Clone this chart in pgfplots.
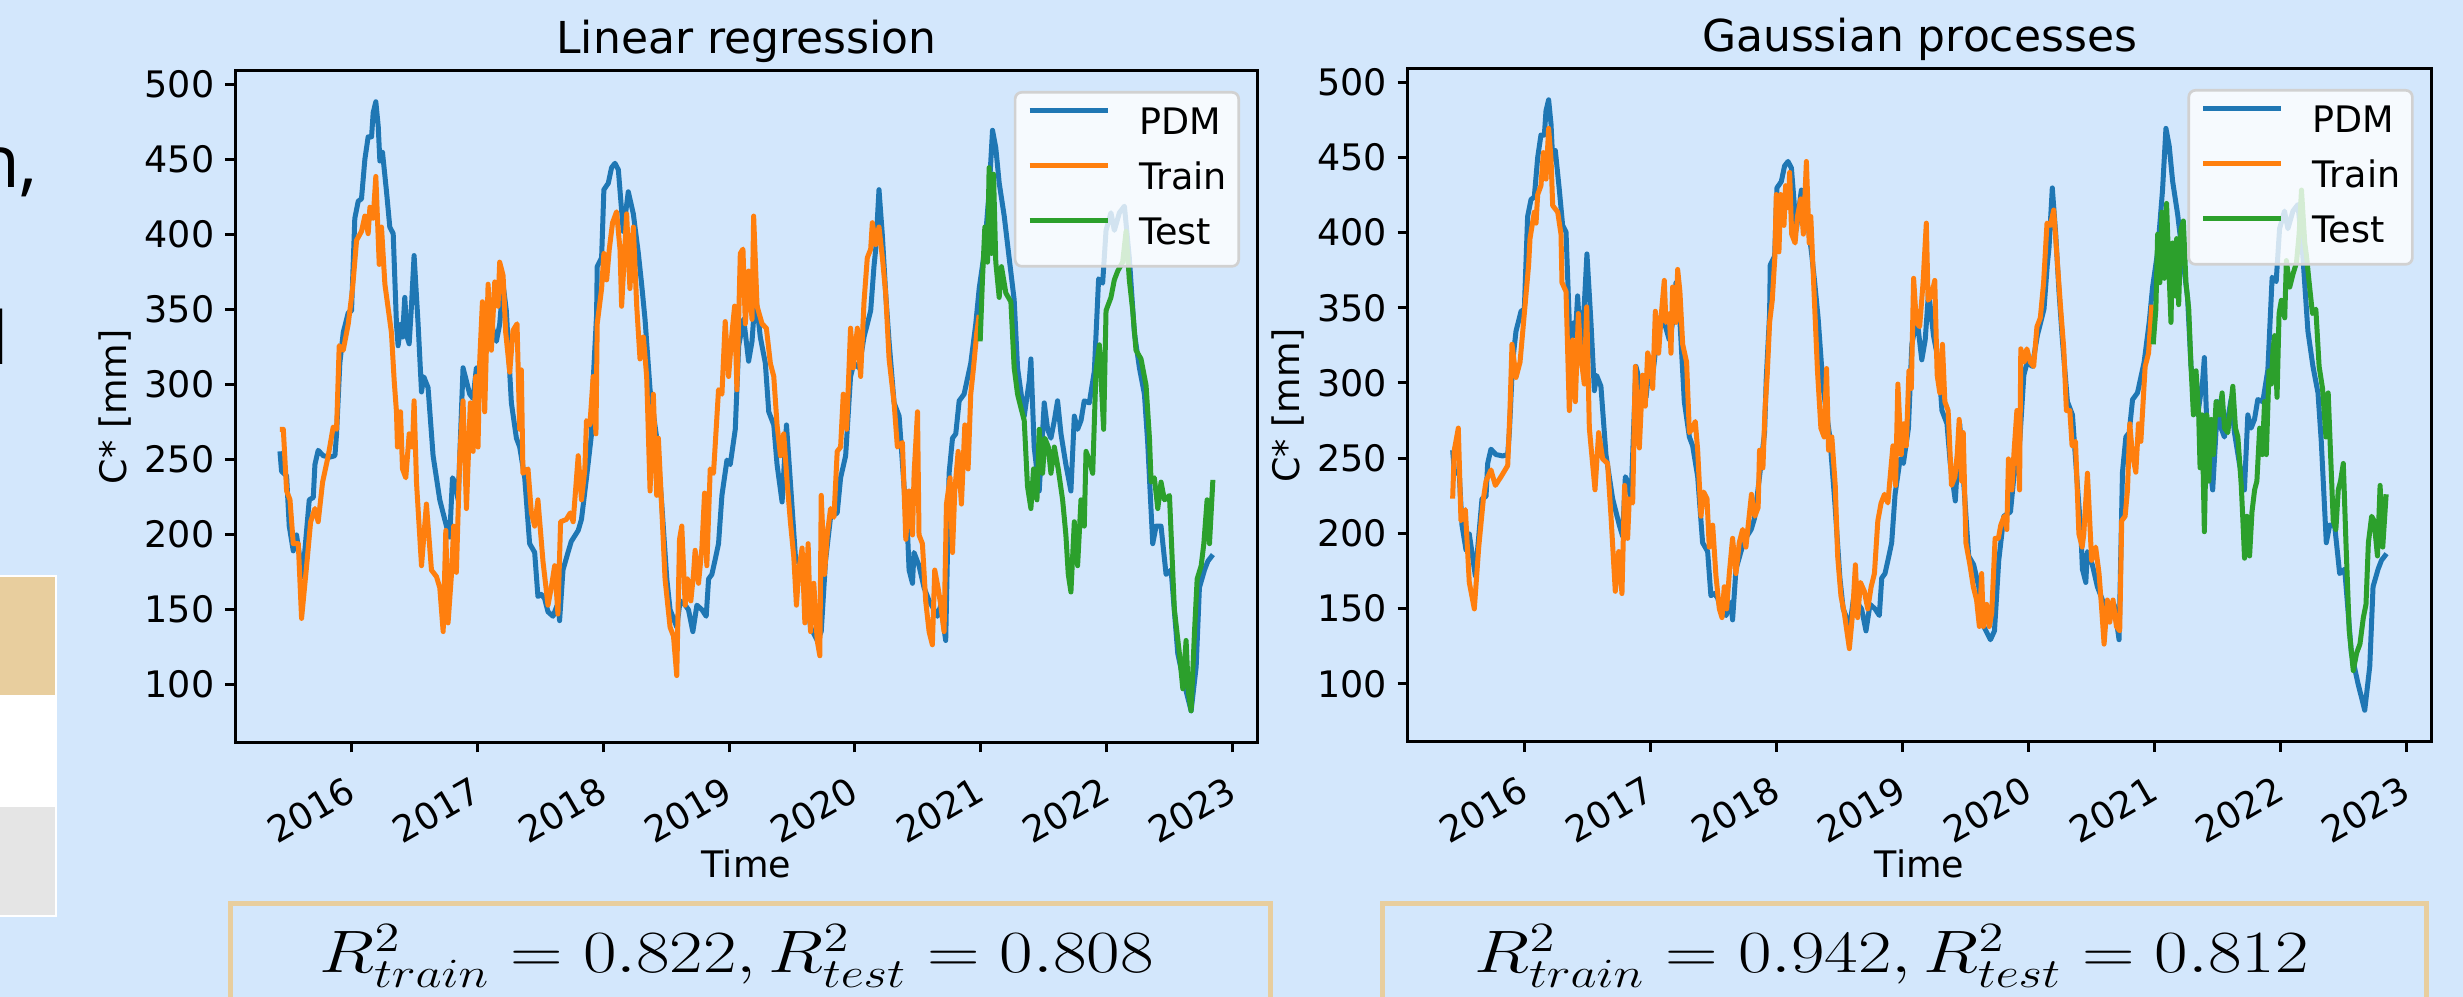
\documentclass[border=0pt]{standalone}
\usepackage{graphicx}
\usepackage{pgfplots}
\usepackage{pgfplotstable}
\pgfplotsset{compat=1.18}
\usepackage{fontspec}
\setmainfont{DejaVu Sans}
\newfontfamily\posterfont{Open Sans}
\definecolor{bgblue}{RGB}{211,231,252}
\definecolor{tabblue}{HTML}{1F77B4}
\definecolor{taborange}{HTML}{FF7F0E}
\definecolor{tabgreen}{HTML}{2CA02C}
\definecolor{tanbox}{HTML}{E8CE9E}
\definecolor{graybox}{HTML}{E5E5E5}

\pgfplotstableread{
x y
2015.431 255.3
2015.444 242
2015.484 239
2015.505 205.5
2015.537 189
2015.563 199.6
2015.611 171.8
2015.664 223
2015.696 224.6
2015.709 246.5
2015.735 256
2015.775 252.4
2015.828 251.5
2015.868 252.4
2015.881 267
2015.907 314
2015.934 334.5
2015.974 347.7
2016.000 349
2016.026 410.7
2016.053 422
2016.079 423.6
2016.106 450
2016.132 464.9
2016.159 464.9
2016.172 481
2016.193 488.3
2016.212 472
2016.225 448.8
2016.246 454.6
2016.278 428.3
2016.304 404.8
2016.331 400.4
2016.357 340
2016.370 325.7
2016.392 340
2016.405 331.5
2016.423 357.9
2016.442 331.5
2016.458 327
2016.476 352
2016.497 385.8
2016.529 340
2016.556 294.9
2016.574 305
2016.608 297.8
2016.648 252.4
2016.701 223
2016.754 205.5
2016.780 198.2
2016.802 237.7
2016.820 234.8
2016.847 223
2016.886 311
2016.913 302
2016.939 293.4
2016.966 290.5
2016.992 311
2017.019 305
2017.071 343.3
2017.111 340.3
2017.151 328.6
2017.177 340
2017.204 366.7
2017.230 349
2017.270 287.6
2017.310 264.1
2017.336 258.3
2017.376 237.7
2017.402 208.4
2017.415 193.8
2017.455 188
2017.481 158.6
2017.508 160
2017.534 157.2
2017.561 148.4
2017.601 145.4
2017.640 154.2
2017.653 142.5
2017.680 176.2
2017.720 188
2017.746 195.3
2017.801 202.6
2017.827 210
2017.867 237.7
2017.907 267
2017.920 302.2
2017.947 346.2
2017.952 378.4
2017.987 384.3
2018.005 429.7
2018.040 434
2018.066 444.4
2018.093 447.3
2018.120 443
2018.159 401.9
2018.199 428.3
2018.239 413.6
2018.279 387.2
2018.305 366.7
2018.332 343.3
2018.372 296.4
2018.425 264.1
2018.465 220.2
2018.505 170.3
2018.531 149.8
2018.558 144
2018.584 138.1
2018.611 155.7
2018.651 152.8
2018.677 149.8
2018.712 135.2
2018.744 152.8
2018.784 149.8
2018.818 145.4
2018.837 170.3
2018.863 173.3
2018.890 183.5
2018.916 193.8
2018.943 226
2018.983 249.5
2019.009 246.5
2019.049 270
2019.076 325.7
2019.116 343.3
2019.155 315.4
2019.182 328.6
2019.209 360.8
2019.248 331.5
2019.288 314
2019.315 281.7
2019.355 272.9
2019.381 246.5
2019.421 221.6
2019.456 272.9
2019.487 234.8
2019.527 185
2019.567 179.1
2019.607 164.5
2019.647 138.1
2019.700 129.3
2019.732 135.2
2019.766 182.1
2019.806 211.4
2019.859 214.3
2019.886 237.7
2019.926 252.4
2019.965 305.2
2019.992 314
2020.032 311
2020.072 331.5
2020.125 349.1
2020.151 378.4
2020.165 390.1
2020.191 429.7
2020.218 398.9
2020.244 360.8
2020.271 328.6
2020.311 287.6
2020.351 278.8
2020.390 231.9
2020.417 202.6
2020.430 176.2
2020.457 167.4
2020.469 187.9
2020.509 179.1
2020.549 164.5
2020.589 155.7
2020.629 149.8
2020.655 145.4
2020.682 152.8
2020.721 129.3
2020.748 240.7
2020.775 264.1
2020.801 267
2020.828 289
2020.867 293.4
2020.920 313.9
2020.960 340.3
2020.987 363.8
2021.027 387.2
2021.066 428.3
2021.093 469.3
2021.119 457.6
2021.146 434.2
2021.186 412.1
2021.225 384.3
2021.265 356.4
2021.292 311
2021.345 278.8
2021.385 302.2
2021.398 316.9
2021.424 258.2
2021.464 228.9
2021.504 287.6
2021.531 270
2021.557 264.1
2021.584 275.8
2021.610 289
2021.637 267
2021.676 246.5
2021.716 228.9
2021.743 278.8
2021.769 270
2021.796 275.8
2021.822 289
2021.862 287.6
2021.902 308.7
2021.936 370.3
2021.968 367.4
2021.995 402.6
2022.034 414.3
2022.061 402.6
2022.101 414.3
2022.141 418.7
2022.180 384.3
2022.220 334.5
2022.260 311
2022.300 293.4
2022.326 261.2
2022.366 193.8
2022.393 205.5
2022.432 205.5
2022.472 173.3
2022.512 176.2
2022.565 120.5
2022.618 100
2022.671 82.4
2022.711 111.7
2022.737 164.5
2022.777 176.2
2022.804 182.1
2022.844 186.5
}\pdm

\pgfplotstableread{
x y
2015.431 270
2015.458 270
2015.484 229
2015.511 223
2015.537 193.8
2015.577 193.8
2015.603 144
2015.643 179
2015.675 208.4
2015.709 217.2
2015.735 208.4
2015.770 234.8
2015.815 252.4
2015.854 271.5
2015.881 270
2015.902 325.7
2015.934 322.7
2015.974 340.3
2016.008 363.8
2016.040 396
2016.079 401.9
2016.106 412.1
2016.132 400.4
2016.146 418
2016.172 410.7
2016.193 438.5
2016.220 379.9
2016.238 404.8
2016.265 366.7
2016.317 334.5
2016.339 302.2
2016.357 281.7
2016.365 258.2
2016.389 281.7
2016.405 243.6
2016.431 237.7
2016.458 267
2016.484 258.2
2016.497 289
2016.516 234.8
2016.556 179.1
2016.595 220.2
2016.635 176.2
2016.675 171.8
2016.701 164.5
2016.728 135.2
2016.749 202.6
2016.767 141
2016.794 173.3
2016.812 205.5
2016.833 174.7
2016.860 252.4
2016.886 289
2016.913 217.2
2016.944 287.6
2016.966 255.3
2016.987 305.2
2017.005 258.2
2017.019 316.9
2017.040 355
2017.058 281.7
2017.085 366.7
2017.111 322.7
2017.138 368.2
2017.164 352
2017.177 381.4
2017.204 372.6
2017.225 334.5
2017.257 308.1
2017.283 335.9
2017.315 340.3
2017.336 270
2017.349 309.6
2017.362 240.7
2017.402 243.6
2017.429 214.3
2017.455 205.5
2017.481 223
2017.521 182.1
2017.561 152.8
2017.587 164.5
2017.614 179.1
2017.640 146.9
2017.661 208.4
2017.706 209.9
2017.738 214.3
2017.761 208.4
2017.801 252.4
2017.827 223
2017.854 243.6
2017.867 275.8
2017.894 272.9
2017.920 305.2
2017.942 267
2017.952 340.3
2017.987 363.8
2018.005 387.2
2018.027 369.6
2018.048 390.1
2018.074 407.7
2018.106 415
2018.133 390.1
2018.146 352
2018.186 413.6
2018.212 363.8
2018.239 404.8
2018.266 352
2018.292 316.9
2018.319 331.5
2018.345 305.2
2018.372 228.9
2018.398 293.4
2018.425 226
2018.438 264.1
2018.465 217.2
2018.491 170.3
2018.531 138.1
2018.558 132.2
2018.584 105.9
2018.606 196.7
2018.624 205.5
2018.651 152.8
2018.669 170.3
2018.696 155.7
2018.717 173.3
2018.730 189.4
2018.757 167.4
2018.784 190.9
2018.805 227.5
2018.823 179.1
2018.850 243.6
2018.876 240.7
2018.895 267
2018.916 296.4
2018.943 293.4
2018.969 341.8
2018.996 305.2
2019.023 334.5
2019.044 352.1
2019.062 296.4
2019.089 387.2
2019.110 390.1
2019.129 340.3
2019.155 375.5
2019.182 343.3
2019.195 412.1
2019.222 352.1
2019.262 340.3
2019.296 337.4
2019.328 313.9
2019.355 305.2
2019.381 272.9
2019.408 252.4
2019.434 267
2019.461 234.8
2019.487 208.4
2019.514 185
2019.535 152.8
2019.554 176.2
2019.580 190.9
2019.602 141
2019.628 193.8
2019.647 135.2
2019.673 167.4
2019.700 129.3
2019.721 119.1
2019.732 226
2019.758 173.3
2019.780 199.6
2019.806 217.2
2019.833 211.4
2019.859 255.3
2019.886 258.2
2019.907 293.4
2019.934 270
2019.965 337.4
2019.987 311
2020.019 337.4
2020.045 305.2
2020.072 355
2020.098 384.3
2020.125 390.1
2020.138 407.7
2020.165 393.1
2020.191 404.8
2020.218 384.3
2020.244 360.8
2020.271 316.9
2020.311 287.6
2020.337 258.2
2020.377 261.2
2020.404 196.7
2020.430 228.9
2020.457 199.6
2020.470 240.7
2020.497 281.7
2020.509 199.6
2020.536 193.8
2020.562 155.7
2020.589 135.2
2020.615 126.4
2020.634 176.2
2020.660 164.5
2020.682 152.8
2020.708 135.2
2020.727 220.2
2020.756 237.7
2020.775 187.9
2020.793 228.9
2020.820 255.3
2020.846 220.2
2020.873 272.9
2020.899 243.6
2020.920 293.4
2020.942 311
2020.968 334.5
2020.987 346.2
}\lrtrain

\pgfplotstableread{
x y
2020.995 328.6
2021.013 369.6
2021.032 404.8
2021.053 381.4
2021.066 444.4
2021.085 387.2
2021.101 440
2021.119 381.4
2021.146 357.9
2021.164 378.4
2021.199 360.8
2021.239 355
2021.265 311
2021.292 293.4
2021.318 284.6
2021.345 275.8
2021.371 231.9
2021.398 217.2
2021.419 243.6
2021.446 223
2021.464 270
2021.491 240.7
2021.509 264.1
2021.536 258.2
2021.557 240.7
2021.584 258.2
2021.615 243.6
2021.650 223
2021.676 199.6
2021.695 173.3
2021.716 161.6
2021.743 208.4
2021.769 179.1
2021.796 223
2021.822 205.5
2021.836 255.3
2021.862 249.5
2021.889 240.7
2021.915 308.7
2021.942 326.3
2021.976 270
2021.995 349.1
2022.034 357.9
2022.061 369.6
2022.088 375.5
2022.127 381.4
2022.154 401.9
2022.180 369.6
2022.207 349.1
2022.233 322.7
2022.273 316.9
2022.313 299.3
2022.340 264.1
2022.353 234.8
2022.379 237.7
2022.406 217.2
2022.432 234.8
2022.459 223
2022.499 225.9
2022.538 149.8
2022.578 120.5
2022.605 97.1
2022.631 129.3
2022.650 94.1
2022.671 82.4
2022.698 135.2
2022.719 170.3
2022.751 179.1
2022.772 193.8
2022.798 223
2022.817 193.8
2022.844 236.3
}\lrtest

\pgfplotstableread{
x y
2015.431 223.1
2015.444 255.3
2015.476 270
2015.497 208.4
2015.532 215.8
2015.563 167.4
2015.603 149.8
2015.638 190.9
2015.675 223
2015.696 234.8
2015.735 242.2
2015.770 231.9
2015.815 237.7
2015.868 245.1
2015.886 281.7
2015.902 325.7
2015.934 303.7
2015.966 313.9
2016.000 346.2
2016.034 378.4
2016.045 396
2016.079 413.6
2016.093 406.3
2016.106 425.3
2016.132 431.2
2016.151 453.2
2016.172 435.6
2016.193 469.3
2016.212 448.8
2016.225 418
2016.265 413.6
2016.291 399
2016.299 366.7
2016.331 360.8
2016.357 281.7
2016.384 328.6
2016.405 287.6
2016.429 346.2
2016.450 316.9
2016.476 299.3
2016.495 350.6
2016.516 270
2016.561 229
2016.590 267
2016.622 249.5
2016.661 246.5
2016.688 211.4
2016.722 161.5
2016.749 187.9
2016.775 160
2016.796 231.9
2016.820 196.7
2016.833 223
2016.860 220.2
2016.881 311
2016.913 256.8
2016.939 305.2
2016.960 284.6
2016.979 320
2017.005 312.5
2017.019 296.4
2017.040 347.7
2017.066 319.8
2017.085 343.3
2017.111 368.2
2017.124 340.3
2017.151 346.2
2017.164 319.8
2017.177 363.8
2017.204 340.3
2017.217 375.5
2017.235 360.8
2017.257 325.7
2017.288 313.9
2017.310 267
2017.336 270
2017.357 274.4
2017.376 255.3
2017.402 211.4
2017.423 227.5
2017.450 223
2017.468 190.9
2017.495 205.5
2017.521 171.8
2017.548 149.8
2017.569 144
2017.587 164.5
2017.606 149.8
2017.627 173.3
2017.653 196.7
2017.680 173.3
2017.706 193.8
2017.733 202.6
2017.759 190.9
2017.803 226
2017.830 211.4
2017.856 217.2
2017.867 255.3
2017.894 243.6
2017.910 281.7
2017.928 305.2
2017.947 340.3
2017.968 355
2017.989 384.3
2018.000 425.3
2018.021 387.2
2018.035 425.3
2018.061 404.8
2018.074 431.2
2018.096 416.5
2018.106 440
2018.122 399
2018.149 393.1
2018.168 410.7
2018.194 422.4
2018.215 399
2018.239 447.3
2018.261 393.1
2018.274 410.7
2018.301 357.9
2018.327 308.1
2018.354 270
2018.380 264.1
2018.399 309.6
2018.415 255.3
2018.441 264.1
2018.468 231.9
2018.487 184.9
2018.513 158.6
2018.540 146.9
2018.580 123.4
2018.606 146.9
2018.628 179.1
2018.646 144
2018.668 167.4
2018.699 161.5
2018.726 149.8
2018.753 164.5
2018.779 173.3
2018.806 208.4
2018.832 220.2
2018.859 226
2018.886 220.2
2018.904 237.7
2018.926 258.2
2018.947 231.9
2018.965 299.3
2018.992 252.4
2019.011 272.9
2019.032 258.2
2019.053 308.1
2019.072 296.4
2019.090 369.6
2019.112 340.3
2019.138 337.4
2019.165 366.7
2019.191 406.3
2019.205 355
2019.231 357.9
2019.258 368.2
2019.277 305.2
2019.298 293.4
2019.319 325.7
2019.338 287.6
2019.364 281.7
2019.391 231.9
2019.418 237.7
2019.436 252.4
2019.452 275.8
2019.471 234.8
2019.484 267
2019.505 193.8
2019.537 179.1
2019.564 164.5
2019.590 155.7
2019.612 138.1
2019.630 173.3
2019.644 138.1
2019.670 152.8
2019.691 138.1
2019.710 146.9
2019.737 196.7
2019.763 196.7
2019.782 205.5
2019.809 211.4
2019.830 202.6
2019.843 249.5
2019.870 228.9
2019.888 255.3
2019.910 281.7
2019.931 228.9
2019.941 322.7
2019.968 313.9
2019.989 322.7
2020.016 313.9
2020.043 311
2020.069 337.4
2020.096 343.3
2020.122 366.7
2020.149 406.3
2020.176 404.8
2020.202 415
2020.223 390.1
2020.255 352.1
2020.282 322.7
2020.303 281.7
2020.330 281.7
2020.348 258.2
2020.375 261.2
2020.402 199.6
2020.428 190.9
2020.441 199.6
2020.470 240
2020.503 182.1
2020.535 190.9
2020.562 173.3
2020.583 149.8
2020.602 126.4
2020.628 155.7
2020.647 141
2020.673 155.7
2020.700 138.1
2020.726 135.2
2020.742 208.4
2020.769 211.4
2020.788 229
2020.806 272.9
2020.827 252.4
2020.854 240.7
2020.875 272.9
2020.894 261.2
2020.912 287.6
2020.928 311
2020.955 319.8
2020.981 352.1
}\gptrain

\pgfplotstableread{
x y
2020.992 325.7
2021.013 349.1
2021.027 398.9
2021.045 366.7
2021.061 413.6
2021.080 369.6
2021.098 419.4
2021.114 381.4
2021.133 340.3
2021.146 393.1
2021.167 357.9
2021.178 396
2021.194 352.1
2021.212 401.9
2021.231 407.7
2021.252 366.7
2021.274 349.1
2021.292 311
2021.311 278.8
2021.332 308.1
2021.353 278.8
2021.364 243.6
2021.380 278.8
2021.398 201.1
2021.417 278.8
2021.433 234.8
2021.452 275.8
2021.470 252.4
2021.491 287.6
2021.518 278.8
2021.539 293.4
2021.558 270
2021.584 267
2021.603 281.7
2021.624 297.8
2021.645 270
2021.664 264.1
2021.691 231.9
2021.704 208.4
2021.717 183.5
2021.736 211.4
2021.757 185
2021.776 214.3
2021.797 229
2021.815 234.8
2021.837 270
2021.858 252.4
2021.876 287.6
2021.890 252.4
2021.911 308.1
2021.930 299.3
2021.943 322.7
2021.956 331.5
2021.975 290.5
2021.991 346.2
2022.009 355
2022.036 343.3
2022.049 381.4
2022.076 363.8
2022.102 372.6
2022.129 379.9
2022.150 398.9
2022.169 428.3
2022.195 393.1
2022.209 384.3
2022.230 366.7
2022.256 346.2
2022.283 349.1
2022.309 311
2022.336 296.4
2022.363 264.1
2022.381 293.4
2022.400 252.4
2022.421 208.4
2022.442 202.6
2022.461 229
2022.479 234.8
2022.501 246.5
2022.522 193.8
2022.548 135.2
2022.580 108.8
2022.607 120.5
2022.633 126.4
2022.660 144
2022.681 152.8
2022.700 193.8
2022.726 211.4
2022.745 208.4
2022.772 185
2022.793 231.9
2022.814 190.9
2022.841 226
}\gptest

\pgfplotsset{
  myaxis/.style={
    scale only axis,
    xmin=2015.074, xmax=2023.2, ymin=61.3, ymax=508.8,
    xtick={2016,2017,2018,2019,2020,2021,2022,2023},
    xticklabels={2016,2017,2018,2019,2020,2021,2022,2023},
    ytick={100,150,200,250,300,350,400,450,500},
    yticklabels={100,150,200,250,300,350,400,450,500},
    tick align=outside, xtick pos=bottom, ytick pos=left,
    major tick length=3pt,
    every tick/.style={black, line width=0.9pt},
    axis line style={line width=0.9pt},
    ticklabel style={font=\fontsize{10.95}{13}\selectfont},
    yticklabel style={anchor=east, inner sep=0pt, xshift=-3pt},
    xticklabel style={xshift=-2.2pt, yshift=-6.5pt, rotate=30, anchor=north east, inner sep=0pt},
    label style={font=\fontsize{10.95}{13}\selectfont},
    xlabel={Time},
    xlabel style={at={(axis description cs:0.5,0)}, anchor=base, yshift=-40.65pt},
    ylabel={C* [mm]},
    ylabel style={at={(axis description cs:-0.1056,0.5)}, anchor=base},
    every axis title/.style={at={(0.5,1)}, anchor=base, yshift=5.1pt, font=\fontsize{13.2}{15}\selectfont},
    legend style={at={(axis description cs:1,1)}, anchor=north east, xshift=-5.3pt, yshift=-6pt,
      draw=black!18, line width=0.8pt, fill=white, fill opacity=0.8, text opacity=1,
      rounded corners=2pt, font=\fontsize{10.95}{13}\selectfont,
      inner xsep=3.6pt, inner ysep=4.6pt, row sep=6.5pt, column sep=8.7pt,
      nodes={inner sep=0pt, text height=8pt, text depth=2pt}},
    legend cell align=left,
    legend image code/.code={\draw[#1] (0pt,4pt) -- (23.4pt,4pt); \path (0pt,0pt);},
    every axis plot/.append style={line width=1.5pt, line join=round},
  }
}

\begin{document}
\begin{tikzpicture}
\useasboundingbox (0pt,0pt) rectangle (738.9pt,299.1pt);
\fill[bgblue] (0pt,0pt) rectangle (738.9pt,299.1pt);

\node[anchor=base east, inner sep=0pt, font=\posterfont\fontsize{21.9}{26}\selectfont] at (11.55pt,242.7pt) {n,};
\node[anchor=base east, inner sep=0pt, font=\posterfont\fontsize{21.9}{26}\selectfont] at (2.9pt,189.6pt) {l};
\fill[white] (0pt,24pt) rectangle (17.1pt,126.6pt);
\fill[tanbox] (0pt,90.6pt) rectangle (16.5pt,126pt);
\fill[graybox] (0pt,24.6pt) rectangle (16.5pt,57pt);

\draw[tanbox, line width=1.5pt] (69.15pt,0pt) -- (69.15pt,28.05pt) -- (381.15pt,28.05pt) -- (381.15pt,0pt);
\draw[tanbox, line width=1.5pt] (414.75pt,0pt) -- (414.75pt,28.05pt) -- (727.95pt,28.05pt) -- (727.95pt,0pt);
\node[anchor=base, inner sep=0pt, font=\fontsize{17.28}{20}\selectfont] at (221pt,7.2pt) {\scalebox{1.265}[1.04]{$R^2_{train} = 0.822, R^2_{test} = 0.808$}};
\node[anchor=base, inner sep=0pt, font=\fontsize{17.28}{20}\selectfont] at (567.5pt,7.2pt) {\scalebox{1.265}[1.04]{$R^2_{train} = 0.942, R^2_{test} = 0.812$}};

\begin{axis}[myaxis, at={(70.5pt,76.35pt)}, anchor=south west, width=306.8pt, height=201.45pt,
  title={Linear regression}]
\addplot[tabblue] table[x=x,y=y] {\pdm};
\addplot[taborange] table[x=x,y=y] {\lrtrain};
\addplot[tabgreen] table[x=x,y=y] {\lrtest};
\legend{PDM,Train,Test}
\end{axis}

\begin{axis}[myaxis, at={(422.3pt,76.5pt)}, anchor=south west, width=307.1pt, height=201.9pt,
  title={Gaussian processes}]
\addplot[tabblue] table[x=x,y=y] {\pdm};
\addplot[taborange] table[x=x,y=y] {\gptrain};
\addplot[tabgreen] table[x=x,y=y] {\gptest};
\legend{PDM,Train,Test}
\end{axis}
\end{tikzpicture}
\end{document}
